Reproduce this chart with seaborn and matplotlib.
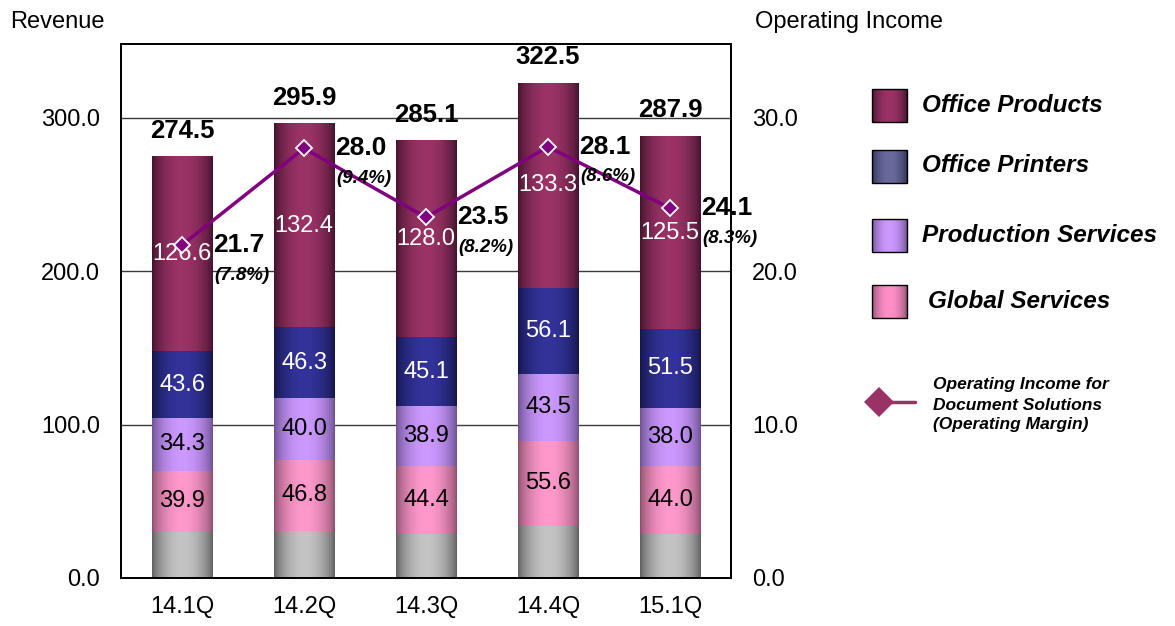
import numpy as np
import matplotlib
matplotlib.use("Agg")
import matplotlib.pyplot as plt
import seaborn as sns
from matplotlib.patches import Rectangle, Polygon
from matplotlib.colors import to_rgb

# ---------------- data ----------------
quarters = ["14.1Q", "14.2Q", "14.3Q", "14.4Q", "15.1Q"]
totals = [274.5, 295.9, 285.1, 322.5, 287.9]
office_products = [126.6, 132.4, 128.0, 133.3, 125.5]
office_printers = [43.6, 46.3, 45.1, 56.1, 51.5]
production_services = [34.3, 40.0, 38.9, 43.5, 38.0]
global_services = [39.9, 46.8, 44.4, 55.6, 44.0]
op_income = [21.7, 28.0, 23.5, 28.1, 24.1]
op_margin = ["(7.8%)", "(9.4%)", "(8.2%)", "(8.6%)", "(8.3%)"]
left_ticks = [0, 100, 200, 300]
right_ticks = [0, 10, 20, 30]
# unlabeled remainder (grey base segment)
other = [t - (a + b + c + d) for t, a, b, c, d in
         zip(totals, office_products, office_printers, production_services, global_services)]

# layers bottom -> top : (name, values, dark, light, label colour)
layers = [
    ("Other", other, "#5e5e5e", "#c4c4c4", None),
    ("Global Services", global_services, "#8a4f6c", "#ff99cc", "black"),
    ("Production Services", production_services, "#6c5090", "#cc99ff", "black"),
    ("Office Printers", office_printers, "#15154a", "#33339a", "white"),
    ("Office Products", office_products, "#42132b", "#9b3366", "white"),
]

# ---------------- setup ----------------
sns.set_theme(style="white")
plt.rcParams["font.family"] = ["Liberation Sans", "DejaVu Sans"]
plt.rcParams["text.color"] = "black"
plt.rcParams["axes.labelcolor"] = "black"
plt.rcParams["xtick.color"] = "black"
plt.rcParams["ytick.color"] = "black"

W, H = 1175, 626
fig = plt.figure(figsize=(W / 100, H / 100), dpi=100)
L, R, B, T = 121, 731, 578, 44
ax = fig.add_axes([L / W, 1 - B / H, (R - L) / W, (B - T) / H])


def gradient(dark, light, n=96):
    t = np.linspace(0, 1, n)
    f = np.sin(np.pi * t) ** 0.7
    d, l = np.array(to_rgb(dark)), np.array(to_rgb(light))
    return (d[None, :] + (l - d)[None, :] * f[:, None])[None, :, :]


# cumulative tops/bottoms
bottoms, tops = [], []
acc = np.zeros(len(quarters))
for name, vals, *_ in layers:
    bottoms.append(acc.copy())
    acc = acc + np.array(vals)
    tops.append(acc.copy())

# draw tallest first so shorter cumulative bars overlay
containers = {}
for i in reversed(range(len(layers))):
    name, vals, dark, light, lc = layers[i]
    sns.barplot(x=quarters, y=tops[i], color=light, saturation=1, width=0.5,
                errorbar=None, ax=ax, linewidth=0, edgecolor="none")
    containers[i] = ax.containers[-1]

# gradient shading on each segment + segment labels
for i, (name, vals, dark, light, lc) in enumerate(layers):
    img = gradient(dark, light)
    for j, p in enumerate(containers[i]):
        x0, w = p.get_x(), p.get_width()
        ax.imshow(img, extent=[x0, x0 + w, bottoms[i][j], tops[i][j]],
                  aspect="auto", interpolation="bilinear", zorder=1.5)
        if lc is not None:
            ax.text(x0 + w / 2, (bottoms[i][j] + tops[i][j]) / 2, f"{vals[j]:.1f}",
                    ha="center", va="center", color=lc, fontsize=17, zorder=3)

# totals
for j, t in enumerate(totals):
    ax.annotate(f"{t:.1f}", (j, t), xytext=(0, 26), textcoords="offset pixels",
                ha="center", va="center", fontsize=18.5, fontweight="bold", color="black")

ax.set_xlim(-0.5, len(quarters) - 0.5)
ax.set_ylim(0, 348)
ax.set_yticks(left_ticks)
ax.set_yticklabels([f"{v:.1f}" for v in left_ticks])
ax.set_xticks(range(len(quarters)))
ax.set_xticklabels(quarters)
ax.set_xticks(np.arange(0.5, len(quarters) - 1, 1), minor=True)
ax.tick_params(axis="y", length=0, pad=15, labelsize=17, colors="black")
ax.tick_params(axis="x", which="major", length=0, pad=13, labelsize=17, colors="black")
ax.tick_params(axis="x", which="minor", direction="in", length=6, width=1, color="#808080")
ax.yaxis.grid(True, color="#3a3a3a", linewidth=1)
ax.xaxis.grid(False)
ax.set_axisbelow(True)
for s in ax.spines.values():
    s.set_color("black")
    s.set_linewidth(1.3)
ax.set_xlabel("")
ax.set_ylabel("")

# ---------------- operating income line ----------------
ax2 = ax.twinx()
sns.pointplot(x=quarters, y=op_income, ax=ax2, color="#800080", markers="D",
              errorbar=None, linewidth=2.5, markersize=8,
              markeredgecolor="white", markeredgewidth=1.3)
ax2.set_xlim(-0.5, len(quarters) - 0.5)
ax2.set_ylim(0, 34.8)
ax2.set_yticks(right_ticks)
ax2.set_yticklabels([f"{v:.1f}" for v in right_ticks])
ax2.tick_params(axis="y", length=0, pad=15, labelsize=17, colors="black")
ax2.grid(False)
ax2.set_xlabel("")
ax2.set_ylabel("")
for s in ax2.spines.values():
    s.set_color("black")
    s.set_linewidth(1.3)

for j, (v, m) in enumerate(zip(op_income, op_margin)):
    ax2.annotate(f"{v:.1f}", (j, v), xytext=(31, 0), textcoords="offset pixels",
                 ha="left", va="center", fontsize=19, fontweight="bold", color="black")
    ax2.annotate(m, (j, v), xytext=(32, -30), textcoords="offset pixels",
                 ha="left", va="center", fontsize=13.5, fontweight="bold",
                 fontstyle="italic", color="black")

# axis titles
fig.text(10 / W, 1 - 22 / H, "Revenue", fontsize=17, ha="left", va="center", color="black")
fig.text(755 / W, 1 - 22 / H, "Operating Income", fontsize=17, ha="left", va="center",
         color="black")

# ---------------- legend (drawn in pixel coordinates) ----------------
lg = fig.add_axes([0, 0, 1, 1], zorder=-1)
lg.set_xlim(0, W)
lg.set_ylim(H, 0)
lg.axis("off")
legend_items = [
    ("Office Products", "#42132b", "#9b3366", 89, 922),
    ("Office Printers", "#2e2e55", "#6a6a9c", 150, 922),
    ("Production Services", "#6c5090", "#cc99ff", 219, 922),
    ("Global Services", "#8a4f6c", "#ff8fc8", 285, 928),
]
for name, dark, light, y0, tx in legend_items:
    lg.imshow(gradient(dark, light), extent=[872, 907, y0 + 33, y0],
              aspect="auto", interpolation="bilinear")
    lg.add_patch(Rectangle((872, y0), 35, 33, fill=False, edgecolor="black", linewidth=1))
    lg.text(tx, y0 + 16, name, fontsize=17.5, fontweight="bold", fontstyle="italic",
            ha="left", va="center", color="black")
lg.set_xlim(0, W)
lg.set_ylim(H, 0)
lg.plot([890, 915], [402, 402], color="#993366", linewidth=2.5)
lg.add_patch(Polygon([[864, 402], [879, 387], [894, 402], [879, 417]], closed=True,
                     facecolor="#993366", edgecolor="none"))
for k, line in enumerate(["Operating Income for", "Document Solutions", "(Operating Margin)"]):
    lg.text(933, 385 + 20 * k, line, fontsize=12.5, fontweight="bold", fontstyle="italic",
            ha="left", va="center", color="black")

fig.savefig("out.png", dpi=100)
